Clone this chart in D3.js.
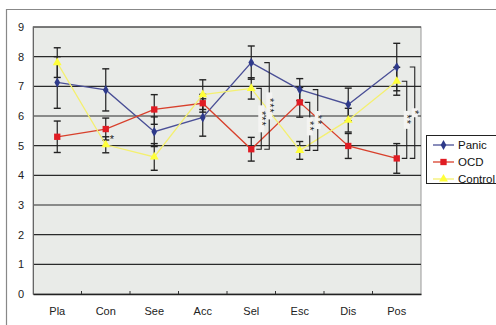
<!DOCTYPE html>
<html><head><meta charset="utf-8">
<script src="https://cdn.jsdelivr.net/npm/d3@7/dist/d3.min.js"></script>
<style>body{margin:0;background:#fff}svg{display:block;font-family:"Liberation Sans",Arial,sans-serif}</style>
</head><body><svg id="c" width="496" height="325"></svg>
<script>
const categories = ["Pla","Con","See","Acc","Sel","Esc","Dis","Pos"];
const seriesNames = ["Panic","OCD","Control"];
const panic      = [7.13,6.88,5.47,5.95,7.80,6.89,6.39,7.65];
const panicErr   = [0.87,0.71,0.50,0.63,0.56,0.37,0.55,0.80];
const ocd        = [5.30,5.56,6.22,6.43,4.88,6.46,4.99,4.57];
const ocdErr     = [0.53,0.37,0.50,0.30,0.40,0.50,0.42,0.50];
const control    = [7.80,5.03,4.62,6.72,6.93,4.84,5.86,7.17];
const controlErr = [0.50,0.27,0.45,0.50,0.36,0.30,0.40,0.47];
const yTicks = [0,1,2,3,4,5,6,7,8,9];
// significance brackets: category, series pair, stars, offset slot
const sigs = [
  {cat:"Sel", a:"Control", b:"OCD", stars:"***", slot:0},
  {cat:"Sel", a:"Panic", b:"OCD", stars:"***", slot:1},
  {cat:"Esc", a:"OCD", b:"Control", stars:"**", slot:0},
  {cat:"Esc", a:"Panic", b:"Control", stars:"**", slot:1},
  {cat:"Pos", a:"Control", b:"OCD", stars:"**", slot:0},
  {cat:"Pos", a:"Panic", b:"OCD", stars:"*", slot:1}
];
const singleStars = [{cat:"Con", value:5.2, stars:"*"}];

const svg = d3.select("#c");
const L=33, R=421, T=27, B=294;
const x = d3.scaleBand().domain(categories).range([L,R]);
const y = d3.scaleLinear().domain([0,9]).range([B,T]);
const cx = c => x(c)+x.bandwidth()/2;

// outer frame
svg.append("path").attr("d","M6.5,325 V9.5 H496").attr("fill","none").attr("stroke","#888").attr("stroke-width",1.2);

// plot area
svg.append("rect").attr("x",L).attr("y",T).attr("width",R-L).attr("height",B-T)
  .attr("fill","#e9ebe8").attr("stroke","#999").attr("stroke-width",1);

// gridlines
svg.append("g").selectAll("line").data(yTicks.filter(d=>d>0)).join("line")
  .attr("x1",L).attr("x2",R).attr("y1",d=>y(d)).attr("y2",d=>y(d))
  .attr("stroke","#2a2a2a").attr("stroke-width",1.2);

// y axis
const ya = svg.append("g").attr("transform",`translate(${L},0)`)
  .call(d3.axisLeft(y).tickValues(yTicks).tickSize(0).tickPadding(9));
ya.select(".domain").attr("stroke","#666");
ya.selectAll("text").attr("font-size",11).attr("fill","#222").attr("font-family","'Liberation Sans',Arial,sans-serif");

// x axis
const xa = svg.append("g").attr("transform",`translate(0,${B})`)
  .call(d3.axisBottom(x).tickSize(0).tickPadding(13));
xa.select(".domain").attr("stroke","#222").attr("stroke-width",1.3);
xa.selectAll("text").attr("font-size",11).attr("fill","#222").attr("font-family","'Liberation Sans',Arial,sans-serif");
svg.append("g").selectAll("line").data(categories.slice(1)).join("line")
  .attr("x1",d=>x(d)).attr("x2",d=>x(d)).attr("y1",B).attr("y2",B-3)
  .attr("stroke","#333").attr("stroke-width",1);

const series = [
  {name:"Panic", vals:panic, err:panicErr, color:"#2e3a8a", marker:"diamond", line:"#4a4f96"},
  {name:"OCD", vals:ocd, err:ocdErr, color:"#e01c24", marker:"square", line:"#d8402c"},
  {name:"Control", vals:control, err:controlErr, color:"#ffff3a", marker:"triangle", line:"#f4f070"}
];
const valOf = (name,cat) => series.find(s=>s.name===name).vals[categories.indexOf(cat)];

// error bars
series.forEach(s=>{
  const g = svg.append("g");
  categories.forEach((c,i)=>{
    const v=s.vals[i], e=s.err[i];
    g.append("line").attr("x1",cx(c)).attr("x2",cx(c)).attr("y1",y(v+e)).attr("y2",y(v-e)).attr("stroke","#222").attr("stroke-width",1.2);
    [v+e,v-e].forEach(t=>g.append("line").attr("x1",cx(c)-3.5).attr("x2",cx(c)+3.5).attr("y1",y(t)).attr("y2",y(t)).attr("stroke","#222").attr("stroke-width",1.4));
  });
});

// lines and markers
const symType = {diamond:d3.symbolDiamond, square:d3.symbolSquare, triangle:d3.symbolTriangle};
const symSize = {diamond:28, square:40, triangle:34};
series.forEach(s=>{
  svg.append("path").datum(s.vals)
    .attr("d",d3.line().x((d,i)=>cx(categories[i])).y(d=>y(d)))
    .attr("fill","none").attr("stroke",s.line).attr("stroke-width",1.3);
});
series.forEach(s=>{
  svg.append("g").selectAll("path").data(s.vals).join("path")
    .attr("transform",(d,i)=>`translate(${cx(categories[i])},${y(d)})`)
    .attr("d",d3.symbol().type(symType[s.marker]).size(symSize[s.marker]))
    .attr("fill",s.color);
});

// significance brackets
sigs.forEach(sg=>{
  const bx = cx(sg.cat)+10+sg.slot*8;
  const y1=y(valOf(sg.a,sg.cat)), y2=y(valOf(sg.b,sg.cat));
  svg.append("path").attr("d",`M${bx-5},${y1} H${bx} V${y2} H${bx-5}`)
    .attr("fill","none").attr("stroke","#222").attr("stroke-width",1.1);
  const my=(y1+y2)/2;
  svg.append("rect").attr("x",bx-3).attr("y",my-sg.stars.length*4.5).attr("width",6).attr("height",sg.stars.length*9)
    .attr("fill","#f4f4f2");
  svg.append("text").attr("transform",`translate(${bx-3.5},${my}) rotate(90)`)
    .attr("text-anchor","middle").attr("font-size",11).attr("fill","#222")
    .attr("letter-spacing",1).text(sg.stars);
});
singleStars.forEach(s=>{
  svg.append("text").attr("x",cx(s.cat)+4).attr("y",y(s.value)+3).attr("font-size",11).attr("fill","#222").text(s.stars);
});

// legend
const lg = svg.append("g");
lg.append("rect").attr("x",426.5).attr("y",135.5).attr("width",80).attr("height",48).attr("fill","#fff").attr("stroke","#222");
series.forEach((s,i)=>{
  const ly = 145 + i*17;
  lg.append("line").attr("x1",433).attr("x2",454).attr("y1",ly).attr("y2",ly).attr("stroke",s.line).attr("stroke-width",1.3);
  lg.append("path").attr("transform",`translate(443.5,${ly})`).attr("d",d3.symbol().type(symType[s.marker]).size(symSize[s.marker])).attr("fill",s.color);
  lg.append("text").attr("x",458).attr("y",ly+4).attr("font-size",11.5).attr("fill","#111").text(s.name);
});
</script></body></html>
